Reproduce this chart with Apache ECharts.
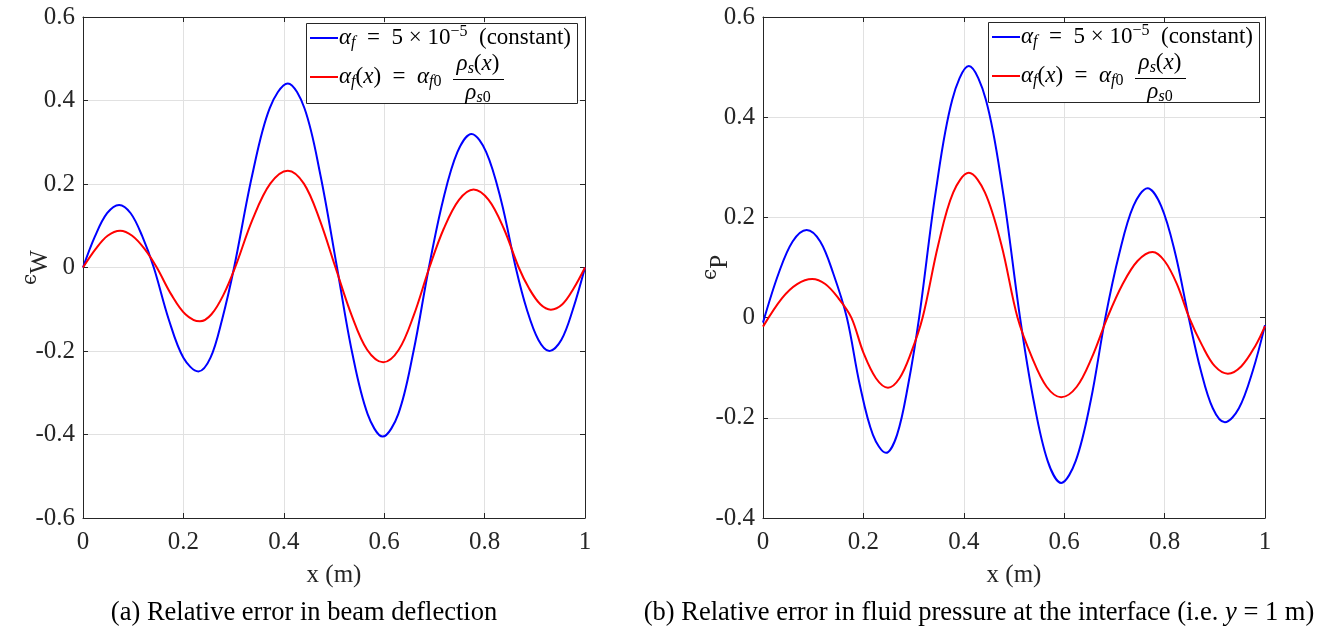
<!DOCTYPE html>
<html><head><meta charset="utf-8">
<script src="https://cdn.jsdelivr.net/npm/echarts@6/dist/echarts.min.js"></script>
<style>html,body{margin:0;padding:0;background:#fff}#c{width:1336px;height:635px}</style>
</head><body><div id="c"></div>
<script>
// ---- tick labels ----
const xTickLabels = ['0', '0.2', '0.4', '0.6', '0.8', '1'];
const yTickLabelsA = ['-0.6', '-0.4', '-0.2', '0', '0.2', '0.4', '0.6'];
const yTickLabelsB = ['-0.4', '-0.2', '0', '0.2', '0.4', '0.6'];

// ---- (a) beam deflection error, constant alpha_f (blue) ----
const aBlueX = [0, 0.024, 0.048, 0.072, 0.095, 0.118, 0.141, 0.171, 0.200, 0.230, 0.254, 0.277, 0.301, 0.337, 0.372, 0.408, 0.441, 0.473, 0.506, 0.536, 0.567, 0.597, 0.628, 0.658, 0.689, 0.717, 0.746, 0.774, 0.803, 0.833, 0.862, 0.884, 0.907, 0.929, 0.953, 0.976, 1.0];
const aBlueY = [0, 0.075, 0.130, 0.150, 0.130, 0.075, 0, -0.125, -0.216, -0.249, -0.216, -0.125, 0, 0.221, 0.382, 0.441, 0.382, 0.221, 0, -0.203, -0.351, -0.405, -0.351, -0.203, 0, 0.160, 0.277, 0.320, 0.277, 0.160, 0, -0.100, -0.173, -0.200, -0.173, -0.100, 0];
// ---- (a) variable alpha_f(x) (red) ----
const aRedX = [0, 0.025, 0.049, 0.074, 0.098, 0.123, 0.147, 0.176, 0.204, 0.233, 0.256, 0.280, 0.303, 0.338, 0.373, 0.408, 0.440, 0.471, 0.503, 0.535, 0.566, 0.598, 0.629, 0.659, 0.690, 0.719, 0.749, 0.778, 0.808, 0.838, 0.868, 0.889, 0.911, 0.932, 0.955, 0.977, 1.0];
const aRedY = [0, 0.044, 0.076, 0.088, 0.076, 0.044, 0, -0.065, -0.112, -0.129, -0.112, -0.065, 0, 0.116, 0.201, 0.232, 0.201, 0.116, 0, -0.114, -0.197, -0.227, -0.197, -0.114, 0, 0.094, 0.162, 0.187, 0.162, 0.094, 0, -0.051, -0.088, -0.101, -0.088, -0.051, 0];

// ---- (b) fluid pressure error, constant alpha_f (blue) ----
const bBlueX = [0, 0.031, 0.059, 0.087, 0.114, 0.140, 0.167, 0.193, 0.219, 0.245, 0.267, 0.289, 0.311, 0.344, 0.377, 0.410, 0.444, 0.478, 0.512, 0.539, 0.567, 0.594, 0.623, 0.653, 0.682, 0.710, 0.738, 0.766, 0.793, 0.821, 0.848, 0.872, 0.896, 0.920, 0.948, 0.976, 1.0];
const bBlueY = [-0.010, 0.088, 0.152, 0.175, 0.152, 0.088, 0, -0.135, -0.234, -0.270, -0.234, -0.135, 0, 0.251, 0.435, 0.502, 0.435, 0.251, 0, -0.165, -0.286, -0.330, -0.286, -0.165, 0, 0.129, 0.223, 0.258, 0.223, 0.129, 0, -0.105, -0.181, -0.209, -0.181, -0.105, -0.015];
// ---- (b) variable alpha_f(x) (red) ----
const bRedX = [0, 0.038, 0.068, 0.098, 0.124, 0.150, 0.176, 0.200, 0.225, 0.249, 0.272, 0.295, 0.318, 0.349, 0.379, 0.410, 0.442, 0.475, 0.507, 0.536, 0.565, 0.594, 0.625, 0.655, 0.686, 0.716, 0.746, 0.776, 0.800, 0.825, 0.849, 0.875, 0.900, 0.926, 0.953, 0.981, 1.0];
const bRedY = [-0.018, 0.039, 0.067, 0.077, 0.067, 0.039, 0, -0.070, -0.121, -0.140, -0.121, -0.070, 0, 0.145, 0.250, 0.289, 0.250, 0.145, 0, -0.080, -0.138, -0.159, -0.138, -0.080, 0, 0.066, 0.113, 0.131, 0.113, 0.066, 0, -0.056, -0.097, -0.112, -0.097, -0.056, -0.017];

const seriesNames = ['αf = 5 × 10^-5 (constant)', 'αf(x) = αf0 ρs(x)/ρs0'];
const captionA = '(a) Relative error in beam deflection';
const captionB = '(b) Relative error in fluid pressure at the interface (i.e. ';

// ---- styling ----
const FONT = 'Liberation Serif, Times New Roman, DejaVu Serif, serif';
const AX = '#262626';
const GRIDC = '#e1e1e1';
const TICKSIZE = 25;

function pairs(xs, ys) { return xs.map((x, i) => [x, ys[i]]); }

function xAxes(gi) {
  const base = {
    gridIndex: gi, type: 'value', min: 0, max: 1, interval: 0.2,
    axisLine: { show: true, onZero: false, lineStyle: { color: AX, width: 1 } },
    axisTick: { show: true, inside: true, length: 5, lineStyle: { color: AX } }
  };
  return [
    Object.assign({}, base, {
      position: 'bottom',
      axisLabel: { show: true, margin: 12, color: AX, fontFamily: FONT, fontSize: TICKSIZE,
        formatter: v => xTickLabels[Math.round(v / 0.2)] },
      splitLine: { show: true, lineStyle: { color: GRIDC, width: 1 } },
      name: 'x (m)', nameLocation: 'middle', nameGap: 45, nameMoveOverlap: false,
      nameTextStyle: { color: AX, fontFamily: FONT, fontSize: 25 }
    }),
    Object.assign({}, base, {
      position: 'top', axisLabel: { show: false }, splitLine: { show: false }
    })
  ];
}

function yAxes(gi, min, labels, nm) {
  const base = {
    gridIndex: gi, type: 'value', min: min, max: 0.6, interval: 0.2,
    axisLine: { show: true, onZero: false, lineStyle: { color: AX, width: 1 } },
    axisTick: { show: true, inside: true, length: 5, lineStyle: { color: AX } }
  };
  return [
    Object.assign({}, base, {
      position: 'left',
      axisLabel: { show: true, margin: 8, color: AX, fontFamily: FONT, fontSize: TICKSIZE,
        formatter: v => labels[Math.round((v - min) / 0.2)] },
      splitLine: { show: true, lineStyle: { color: GRIDC, width: 1 } },
      name: '{e|ϵ}{w|' + nm + '}', nameLocation: 'middle', nameGap: 30, nameRotate: 90,
      nameMoveOverlap: false,
      nameTextStyle: { color: AX, fontFamily: FONT, fontSize: 24,
        rich: {
          e: { color: AX, fontFamily: 'DejaVu Serif, ' + FONT, fontSize: 20, padding: [0, 0, 8, 0] },
          w: { color: AX, fontFamily: FONT, fontSize: 25, padding: [12, 0, 0, 0] }
        } }
    }),
    Object.assign({}, base, {
      position: 'right', axisLabel: { show: false }, splitLine: { show: false }
    })
  ];
}

function line(name, data, xi, yi, color) {
  return {
    type: 'line', name: name, data: data, xAxisIndex: xi, yAxisIndex: yi,
    showSymbol: false, smooth: 0.35, clip: true,
    lineStyle: { color: color, width: 2 }, itemStyle: { color: color },
    emphasis: { disabled: true }, silent: true, animation: false
  };
}

// ---- legend & captions drawn as text ----
const LS = 23; // legend font size
const rich = {
  i: { fill: '#000', fontFamily: FONT, fontStyle: 'italic', fontSize: LS },
  r: { fill: '#000', fontFamily: FONT, fontSize: LS },
  sub: { fill: '#000', fontFamily: FONT, fontStyle: 'italic', fontSize: 16, padding: [10, 0, 0, 0] },
  sub0: { fill: '#000', fontFamily: FONT, fontSize: 16, padding: [10, 0, 0, 0] },
  sup: { fill: '#000', fontFamily: FONT, fontSize: 16, padding: [0, 0, 12, 0] }
};
function txt(x, y, text, align) {
  return { type: 'text', z: 100, silent: true,
    style: { x: x, y: y, text: text, rich: rich, fill: '#000',
      align: align || 'left', verticalAlign: 'middle',
      textAlign: align || 'left', textVerticalAlign: 'middle',
      font: LS + 'px ' + FONT } };
}
function legendBox(x0, y0) {
  return [
    { type: 'rect', z: 99, silent: true, shape: { x: x0 + 0.5, y: y0 + 0.5, width: 271, height: 80 },
      style: { fill: '#fff', stroke: AX, lineWidth: 1 } },
    { type: 'line', z: 100, silent: true, shape: { x1: x0 + 4, y1: y0 + 15, x2: x0 + 32, y2: y0 + 15 },
      style: { stroke: '#0000ff', lineWidth: 2 } },
    txt(x0 + 33, y0 + 15, '{i|α}{sub|f}{r|  =  5 × 10}{sup|−5}{r|  (constant)}'),
    { type: 'line', z: 100, silent: true, shape: { x1: x0 + 4, y1: y0 + 54, x2: x0 + 32, y2: y0 + 54 },
      style: { stroke: '#ff0000', lineWidth: 2 } },
    txt(x0 + 33, y0 + 54, '{i|α}{sub|f}{r|(}{i|x}{r|)  =  }{i|α}{sub|f}{sub0|0}'),
    txt(x0 + 172, y0 + 41, '{i|ρ}{sub|s}{r|(}{i|x}{r|)}', 'center'),
    { type: 'line', z: 100, silent: true, shape: { x1: x0 + 147, y1: y0 + 56.5, x2: x0 + 198, y2: y0 + 56.5 },
      style: { stroke: '#000', lineWidth: 1 } },
    txt(x0 + 172, y0 + 70, '{i|ρ}{sub|s}{sub0|0}', 'center')
  ];
}
const CAP = 26.5;
const capRich = {
  c: { fill: '#000', fontFamily: FONT, fontSize: CAP },
  ci: { fill: '#000', fontFamily: FONT, fontStyle: 'italic', fontSize: CAP }
};
function caption(x, y, text) {
  return { type: 'text', z: 100, silent: true,
    style: { x: x, y: y, text: text, rich: capRich, fill: '#000',
      align: 'center', verticalAlign: 'middle', textAlign: 'center', textVerticalAlign: 'middle',
      font: CAP + 'px ' + FONT } };
}

const chart = echarts.init(document.getElementById('c'), null, { renderer: 'canvas' });
chart.setOption({
  animation: false,
  backgroundColor: '#fff',
  grid: [
    { left: 83, top: 17, width: 502, height: 501, containLabel: false },
    { left: 763, top: 17, width: 502, height: 501, containLabel: false }
  ],
  xAxis: [].concat(xAxes(0), xAxes(1)),
  yAxis: [].concat(yAxes(0, -0.6, yTickLabelsA, 'W'), yAxes(1, -0.4, yTickLabelsB, 'P')),
  series: [
    line(seriesNames[0], pairs(aBlueX, aBlueY), 0, 0, '#0000ff'),
    line(seriesNames[1], pairs(aRedX, aRedY), 0, 0, '#ff0000'),
    line(seriesNames[0], pairs(bBlueX, bBlueY), 2, 2, '#0000ff'),
    line(seriesNames[1], pairs(bRedX, bRedY), 2, 2, '#ff0000')
  ],
  graphic: [].concat(
    legendBox(306, 23),
    legendBox(988, 22),
    [caption(304, 613, '{c|' + captionA + '}'),
     caption(979, 613, '{c|' + captionB + '}{ci|y}{c| = 1 m)}')]
  )
});
</script>
</body></html>
